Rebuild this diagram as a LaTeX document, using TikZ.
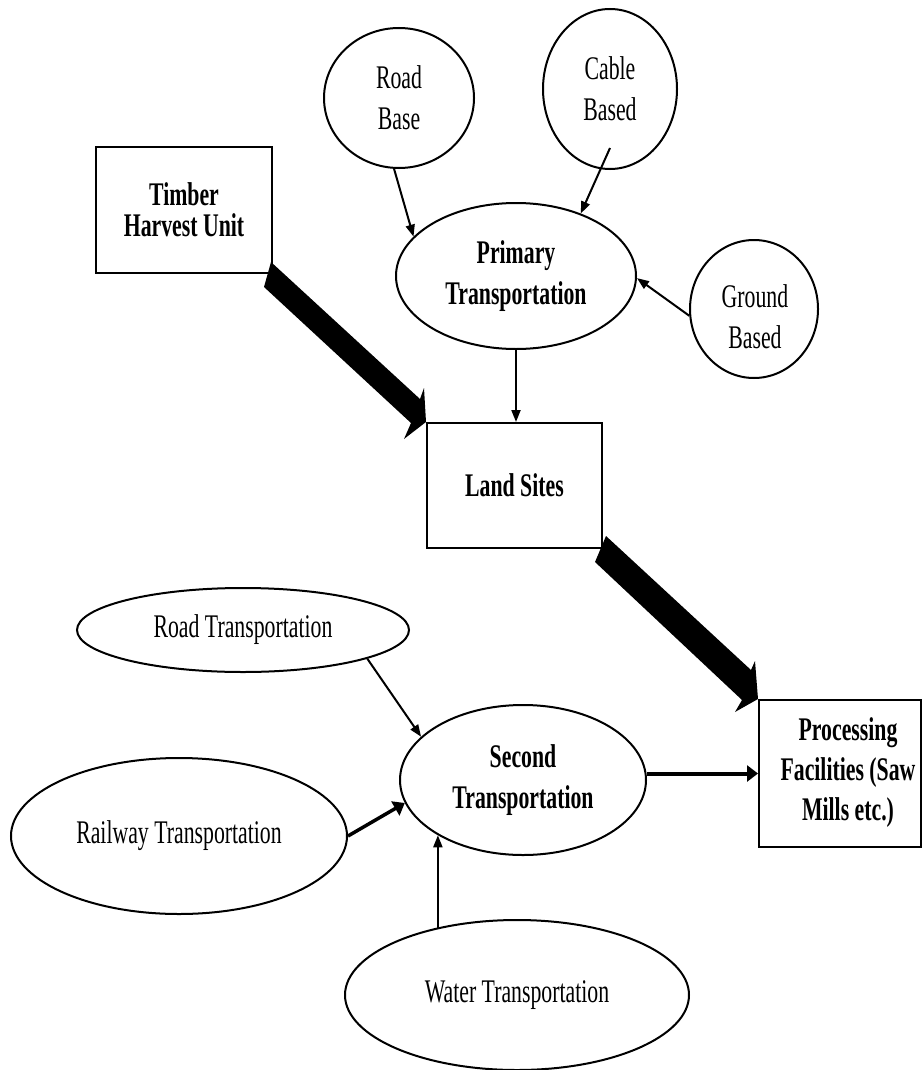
\documentclass[tikz,border=0pt]{standalone}
\usepackage{fontspec}
\setmainfont{Liberation Serif}[FakeStretch=0.66]
\usetikzlibrary{arrows.meta,shapes.geometric,calc}
\begin{document}
\begin{tikzpicture}[x=1pt,y=-1pt,
  every node/.style={font=\fontsize{33}{41}\selectfont, align=center, inner sep=0pt},
  bf/.style={font=\fontsize{33}{41}\selectfont\bfseries},
  oval/.style={ellipse, draw, line width=2pt},
  box/.style={rectangle, draw, line width=2pt},
  arr/.style={line width=2pt, -{Triangle[length=12pt,width=9pt]}},
  arrb/.style={line width=3.5pt, -{Triangle[length=11pt,width=16pt]}},
  fat/.style={fill=black}]
\useasboundingbox (0,0) rectangle (922,1070);

% top group
\node[oval, minimum width=150pt, minimum height=140pt] (rb) at (399,98) {Road\\Base};
\node[oval, minimum width=134pt, minimum height=160pt] (cb) at (610,89) {Cable\\Based};
\node[oval, minimum width=128pt, minimum height=138pt] (gb) at (754,309) {};
\node (gbtext) at (755,317) {Ground\\Based};
\node[oval, bf, minimum width=240pt, minimum height=146pt] (prim) at (516,276) {Primary\\Transportation};
\node[box, font=\fontsize{33}{31}\selectfont\bfseries, minimum width=176pt, minimum height=126pt] (thu) at (184,210) {Timber\\Harvest Unit};
\node[box, bf, minimum width=175pt, minimum height=125pt] (land) at (514.5,485.5) {Land Sites};

% bottom group
\node[oval, minimum width=332pt, minimum height=84pt] (rt) at (243,630) {Road Transportation};
\node[oval, minimum width=336pt, minimum height=156pt] (rw) at (179,836) {Railway Transportation};
\node[oval, bf, minimum width=246pt, minimum height=150pt] (st) at (523,780) {Second\\Transportation};
\node[oval, minimum width=344pt, minimum height=150pt] (wt) at (517,995) {Water Transportation};
\node[box, minimum width=162pt, minimum height=147pt] (proc) at (840,773.5) {};
\node[bf, font=\fontsize{33}{40}\selectfont\bfseries] (proctext) at (848,773) {Processing\\Facilities (Saw\\Mills etc.)};

% thin connectors
\draw[arr] (rb.-94) -- (prim.159);
\draw[arr] ([yshift=22pt]cb.south) -- (prim.44);
\draw[arr] (gb.186) -- (prim.-1);
\draw[arr] (prim.south) -- (prim.south |- land.north);
\draw[arr] (rt.-13) -- (st.157);
\draw[arrb] (rw.east) -- (st.191);
\draw[arr] (st.213.7 |- wt.141) -- (st.213.7);
\draw[arrb, line width=4pt] (st.east |- proc.west) -- (proc.west);

% fat arrows
\fill[fat] ($(land.north west)+(-155,-160)$) -- ($(land.north west)+(-6,-23)$)
  -- ($(land.north west)+(-2,-34)$) -- (land.north west)
  -- ($(land.north west)+(-22,17)$) -- ($(land.north west)+(-15,1)$)
  -- ($(land.north west)+(-162,-135)$) -- cycle;
\fill[fat] ($(proc.north west)+(-152,-163)$) -- ($(proc.north west)+(-7,-29)$)
  -- ($(proc.north west)+(-3,-38)$) -- (proc.north west)
  -- ($(proc.north west)+(-23,13)$) -- ($(proc.north west)+(-16,1)$)
  -- ($(proc.north west)+(-163,-137)$) -- cycle;
\end{tikzpicture}
\end{document}
